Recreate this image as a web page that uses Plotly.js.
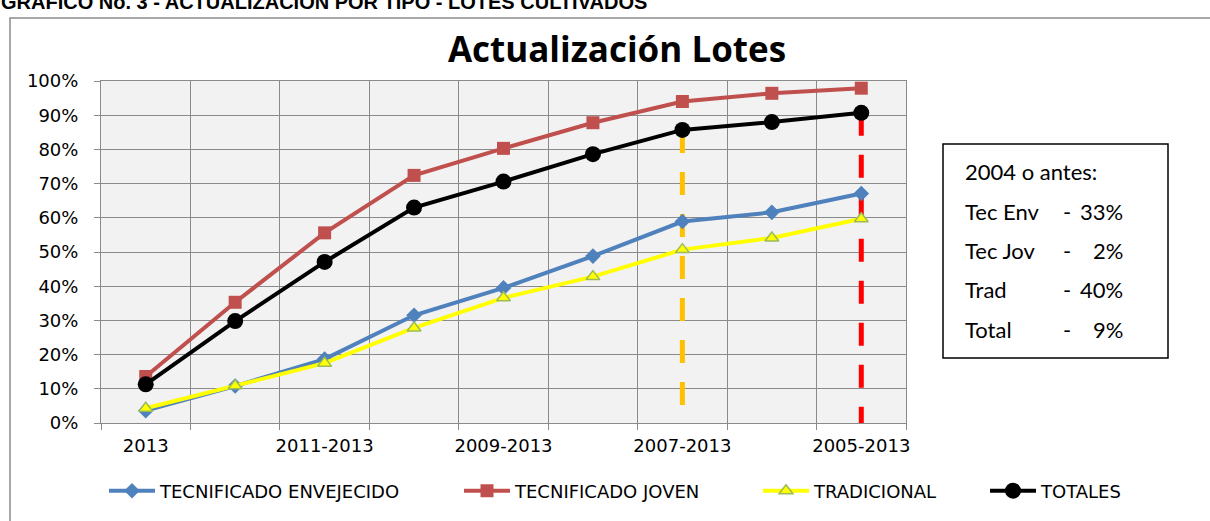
<!DOCTYPE html>
<html><head><meta charset="utf-8">
<script src="https://cdn.plot.ly/plotly-3.0.1.min.js"></script>
<style>html,body{margin:0;padding:0;background:#fff}#chart{width:1210px;height:521px}</style>
</head><body><div id="chart"></div>
<script>
// ---- data ----
const categories = ["2013","2012-2013","2011-2013","2010-2013","2009-2013","2008-2013","2007-2013","2006-2013","2005-2013"];
const tickLabels = ["2013","","2011-2013","","2009-2013","","2007-2013","","2005-2013"];
const tecEnvejecido = [0.036,0.108,0.187,0.315,0.395,0.488,0.589,0.616,0.671];
const tecJoven      = [0.136,0.353,0.556,0.724,0.803,0.878,0.940,0.964,0.979];
const tradicional   = [0.043,0.109,0.175,0.278,0.366,0.428,0.507,0.541,0.597];
const totales       = [0.113,0.298,0.471,0.630,0.706,0.786,0.857,0.880,0.907];
const seriesNames = ["TECNIFICADO ENVEJECIDO","TECNIFICADO JOVEN","TRADICIONAL","TOTALES"];
const refLineIdx = [6, 8];
const chartTitle = "Actualización Lotes";
const headerText = "GRAFICO No. 3 - ACTUALIZACION POR TIPO - LOTES CULTIVADOS";
const boxTitle = "2004 o antes:";
const boxLabels = ["Tec Env","Tec Jov","Trad","Total"];
const boxValues = ["33%","2%","40%","9%"];

// ---- layout helpers (pixel -> paper) ----
const W = 1210, H = 521, L = 101, R = 906, T = 81, B = 428;
const px = x => (x - L) / (R - L);
const py = y => (B - y) / (B - T);

const refColors = ["#FFC000", "#FF0000"];
const traces = [];
refLineIdx.forEach((idx, k) => {
  traces.push({
    x: [categories[idx], categories[idx]], y: [totales[idx], 0],
    mode: "lines", showlegend: false, hoverinfo: "skip",
    line: {color: refColors[k], width: 5, dash: "23px,19px"}
  });
});
traces.push(
  {x: categories, y: tecEnvejecido, name: seriesNames[0], mode: "lines+markers", legend: "legend",
   line: {color: "#4F81BD", width: 4}, marker: {symbol: "diamond", size: 12, color: "#4F81BD"}},
  {x: categories, y: tecJoven, name: seriesNames[1], mode: "lines+markers", legend: "legend2",
   line: {color: "#C0504D", width: 4}, marker: {symbol: "square", size: 13, color: "#C0504D"}},
  {x: categories, y: tradicional, name: seriesNames[2], mode: "lines+markers", legend: "legend3",
   line: {color: "#FFFF00", width: 4}, marker: {symbol: "triangle-up", size: 12, color: "#FFFF00", line: {color: "#9BBB59", width: 1.5}}},
  {x: categories, y: totales, name: seriesNames[3], mode: "lines+markers", legend: "legend4",
   line: {color: "#000000", width: 4}, marker: {symbol: "circle", size: 16, color: "#000000"}}
);

const annotations = [];
annotations.push({xref: "paper", yref: "paper", x: px(-1), y: py(1), xanchor: "left", yanchor: "middle",
  text: "<b>" + headerText + "</b>", showarrow: false,
  font: {family: "Liberation Sans, Arial, sans-serif", size: 20, color: "#000"}});
const boxFont = {family: "Lato, Carlito, sans-serif", size: 22, color: "#000"};
annotations.push({xref: "paper", yref: "paper", x: px(963), y: py(173), xanchor: "left", yanchor: "middle",
  text: boxTitle, showarrow: false, font: boxFont});
boxLabels.forEach((lab, i) => {
  const yc = py(213 + 40 * i);
  annotations.push({xref: "paper", yref: "paper", x: px(963), y: yc, xanchor: "left", yanchor: "middle",
    text: lab, showarrow: false, font: boxFont});
  annotations.push({xref: "paper", yref: "paper", x: px(1067), y: yc, xanchor: "center", yanchor: "middle",
    text: "-", showarrow: false, font: boxFont});
  annotations.push({xref: "paper", yref: "paper", x: px(1125), y: yc, xanchor: "right", yanchor: "middle",
    text: boxValues[i], showarrow: false, font: boxFont});
});

const legFont = {family: "DejaVu Sans, Verdana, sans-serif", size: 18, color: "#000"};
const mkLegend = xpix => ({orientation: "h", x: px(xpix), xanchor: "left", y: py(497), yanchor: "middle",
  font: legFont, bgcolor: "rgba(0,0,0,0)", itemwidth: 46});
const tickFont = {family: "DejaVu Sans, Verdana, sans-serif", size: 18, color: "#000"};

const layout = {
  width: W, height: H,
  margin: {l: L, r: W - R, t: T, b: H - B, pad: 0},
  paper_bgcolor: "#FFFFFF", plot_bgcolor: "#F2F2F2",
  showlegend: true,
  title: {text: "<b>" + chartTitle + "</b>", x: 617 / W, xref: "container", xanchor: "center",
          y: 1 - 50 / H, yref: "container", yanchor: "middle",
          font: {family: "Open Sans, Lato, sans-serif", size: 35, color: "#000"}},
  xaxis: {
    type: "category", categoryorder: "array", categoryarray: categories,
    range: [-0.5, 8.5], tickmode: "array", tickvals: categories, ticktext: tickLabels, tickangle: 0,
    tickson: "boundaries", ticks: "outside", ticklen: 6, tickcolor: "#8A8A8A",
    showgrid: true, gridcolor: "#8A8A8A", gridwidth: 1,
    showline: true, linecolor: "#8A8A8A", linewidth: 1, mirror: true,
    zeroline: false, ticklabelstandoff: 6, tickfont: tickFont
  },
  yaxis: {
    range: [0, 1], dtick: 0.1, tick0: 0, tickformat: ".0%",
    ticks: "outside", ticklen: 6, tickcolor: "#8A8A8A",
    showgrid: true, gridcolor: "#8A8A8A", gridwidth: 1,
    showline: true, linecolor: "#8A8A8A", linewidth: 1, mirror: true,
    zeroline: false, ticklabelstandoff: 12, tickfont: tickFont
  },
  legend: mkLegend(104),
  legend2: mkLegend(459),
  legend3: mkLegend(758),
  legend4: mkLegend(985),
  shapes: [
    {type: "rect", xref: "paper", yref: "paper", x0: px(10), x1: px(1240), y0: py(560), y1: py(17),
     line: {color: "#8C8C8C", width: 1.5}, fillcolor: "rgba(0,0,0,0)", layer: "below"},
    {type: "rect", xref: "paper", yref: "paper", x0: px(943), x1: px(1168), y0: py(362), y1: py(145),
     line: {color: "#000", width: 1.5}, fillcolor: "#FFFFFF"}
  ],
  annotations: annotations
};

Plotly.newPlot("chart", traces, layout, {displayModeBar: false, staticPlot: true});
</script>
</body></html>
